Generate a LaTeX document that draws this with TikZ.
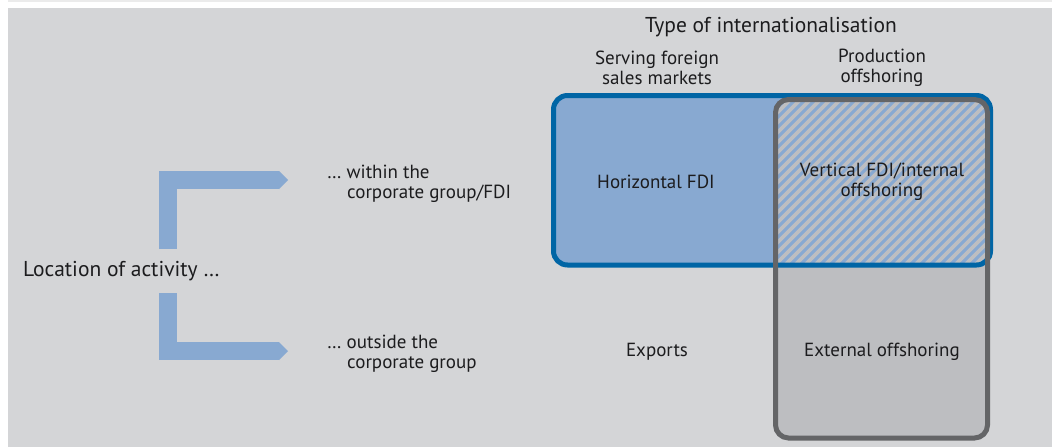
\documentclass[tikz,border=0pt]{standalone}
\usepackage{fontspec}
\setmainfont{PT Sans}
\usetikzlibrary{arrows.meta}

\definecolor{panelgrey}{HTML}{D4D5D7}
\definecolor{stripgrey}{HTML}{EBEBEB}
\definecolor{fdifill}{HTML}{88A9D1}
\definecolor{fdiline}{HTML}{0065A5}
\definecolor{offfill}{HTML}{BDBEC1}
\definecolor{offline}{HTML}{646567}
\definecolor{textdark}{HTML}{1C1C1E}

\tikzset{
  label text/.style={text=textdark, inner sep=0pt,
    font=\fontsize{19}{20}\selectfont},
  big text/.style={label text, font=\fontsize{21.5}{22}\selectfont},
  head text/.style={label text, align=center},
  row text/.style={label text, align=left, anchor=west},
  bracket/.style={draw=fdifill, line width=18pt, line join=miter,
    -{Triangle[length=9pt,width=18pt,line width=0pt]}},
  fdi box/.style={rounded corners=14pt},
  off box/.style={rounded corners=13pt},
  hatch/.style={draw=offfill, line width=3.6pt},
}

\begin{document}
\begin{tikzpicture}[x=1pt,y=-1pt]
  \useasboundingbox (0,0) rectangle (1052,447);
  % background panel
  \fill[stripgrey] (8,0) rectangle (1052,2);
  \fill[panelgrey] (8,8) rectangle (1052,447);

  % corners of the two boxes
  \coordinate (fdi nw) at (553.5,95.5);
  \coordinate (fdi se) at (990.5,265);
  \coordinate (off nw) at (775.5,99.5);
  \coordinate (off se) at (987.5,438);

  \fill[fdifill, fdi box] (fdi nw) rectangle (fdi se);
  \fill[offfill, off box] (off nw) rectangle (off se);
  % overlap: blue with grey stripes
  \begin{scope}
    \clip[off box] (off nw) rectangle (off se);
    \clip[fdi box] (fdi nw) rectangle (fdi se);
    \fill[fdifill] (fdi nw) rectangle (fdi se);
    \foreach \s in {580,590,...,1000}
      \draw[hatch] (\s,280) -- ++(200,-200);
  \end{scope}
  \draw[fdiline, line width=5pt, fdi box] (fdi nw) rectangle (fdi se);
  \draw[offline, line width=5pt, off box] (off nw) rectangle (off se);

  % headings
  \node[head text, big text] (type) at (771,27) {Type of internationalisation};
  \node[head text] (serving) at (657,68) {Serving foreign\\sales markets};
  \node[head text] (production) at (882,68) {Production\\offshoring};

  % cells
  \node[head text] (horizontal) at (656,182) {Horizontal FDI};
  \node[head text] (vertical) at (882,182) {Vertical FDI/internal\\offshoring};
  \node[head text] (exports) at (657,352) {Exports};
  \node[head text] (external) at (882,352) {External offshoring};

  % rows
  \node[row text, big text] (location) at (23,271) {Location of activity …};
  \node[row text] (within) at (327,184) {…\ within the\\\hspace*{20pt}corporate group/FDI};
  \node[row text] (outside) at (327,354) {…\ outside the\\\hspace*{20pt}corporate group};

  % brackets
  \coordinate (upper foot) at (168,249);
  \coordinate (upper tip) at (288,180);
  \coordinate (lower foot) at (168,293);
  \coordinate (lower tip) at (288,351);
  \draw[bracket] (upper foot) |- (upper tip);
  \draw[bracket] (lower foot) |- (lower tip);
\end{tikzpicture}
\end{document}
